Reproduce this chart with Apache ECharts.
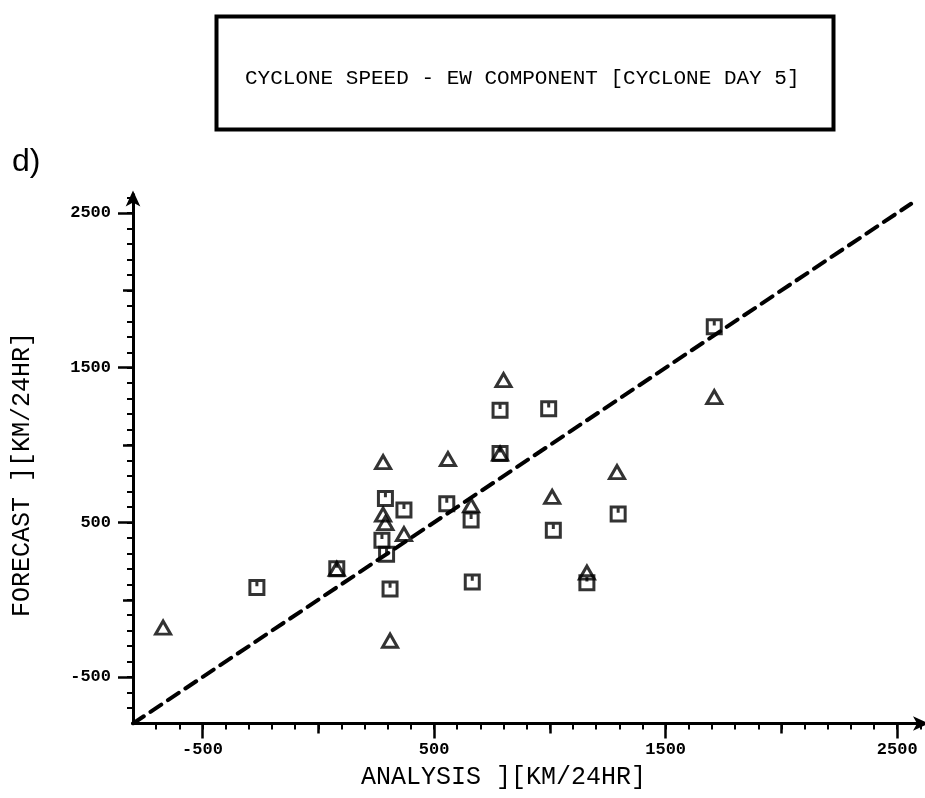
<!DOCTYPE html>
<html>
<head>
<meta charset="utf-8">
<script src="https://cdn.jsdelivr.net/npm/echarts@6/dist/echarts.min.js"></script>
<style>
  html, body { margin: 0; padding: 0; background: #fff; }
  #chart { width: 925px; height: 798px; }
</style>
</head>
<body>
<div id="chart"></div>
<script>
// Text
const titleText = 'CYCLONE SPEED - EW COMPONENT [CYCLONE DAY 5]';
const panelLabel = 'd)';
const xTitle = 'ANALYSIS ][KM/24HR]';
const yTitle = 'FORECAST ][KM/24HR]';

// Axis range and ticks (km/24hr)
const axisMin = -800;
const axisMax = 2620;
const labelTicks = [-500, 500, 1500, 2500];
const midTicks = [0, 1000, 2000];
const minorTicks = [];
for (let v = -700; v <= 2600; v += 100) minorTicks.push(v);

// Triangles: analysis (x) vs forecast (y)
const triX = [800, 280, 560, 280, 290, 370, 660, 1010, 1290, 1160, 1710, -670, 310, 785, 80];
const triY = [1420, 890, 910, 550, 495, 425, 610, 665, 825, 175, 1310, -180, -265, 945, 200];

// Squares: analysis (x) vs forecast (y)
const sqX = [785, 995, 785, 290, 370, 555, 275, 295, 80, -265, 310, 660, 665, 1015, 1295, 1160, 1710];
const sqY = [1225, 1235, 945, 655, 580, 620, 385, 295, 200, 80, 70, 515, 115, 450, 555, 110, 1765];

// Perfect-forecast diagonal (y = x)
const diagonalEnds = [-800, 2560];

const ink = '#000';
const plotFont = '"Liberation Mono", "DejaVu Sans Mono", monospace';
// Plotter-style square: outline plus the pen mark at the top centre
const squareSymbol = 'path://M0,0L12,0L12,12L0,12ZM6,0.5L6,5';

function zip(xs, ys) { return xs.map((x, i) => [x, ys[i]]); }

function axisSet(dim) {
  const pos = dim === 'x' ? 'bottom' : 'left';
  const base = {
    type: 'value', min: axisMin, max: axisMax, position: pos, offset: 0,
    splitLine: { show: false }, gridIndex: 0
  };
  return [
    Object.assign({}, base, {
      axisLine: {
        show: true, onZero: false, symbol: ['none', 'arrow'], symbolSize: [11, 16], symbolOffset: [0, 4],
        lineStyle: { color: ink, width: 3 }
      },
      axisTick: { show: true, customValues: labelTicks, length: 15, lineStyle: { color: ink, width: 2.5 } },
      axisLabel: {
        show: true, customValues: labelTicks, margin: dim === 'x' ? 18 : 22,
        formatter: v => String(v),
        color: ink, fontFamily: plotFont, fontSize: 17, fontWeight: 'bold'
      }
    }),
    Object.assign({}, base, {
      axisLine: { show: false, onZero: false },
      axisTick: { show: true, customValues: midTicks, length: 10, lineStyle: { color: ink, width: 2.5 } },
      axisLabel: { show: false }
    }),
    Object.assign({}, base, {
      axisLine: { show: false, onZero: false },
      axisTick: { show: true, customValues: minorTicks, length: 6, lineStyle: { color: ink, width: 2 } },
      axisLabel: { show: false }
    })
  ];
}

const chart = echarts.init(document.getElementById('chart'), null, { renderer: 'canvas' });

chart.setOption({
  backgroundColor: '#fff',
  animation: false,
  grid: { left: 133, top: 194.5, width: 792, height: 529, containLabel: false },
  xAxis: axisSet('x'),
  yAxis: axisSet('y'),
  graphic: [
    {
      type: 'rect', left: 214, top: 14,
      shape: { width: 617, height: 113 },
      style: { fill: 'none', stroke: ink, lineWidth: 4 }
    },
    {
      type: 'text', left: 245, top: 68,
      style: { text: titleText, fill: ink, font: '21px ' + plotFont }
    },
    {
      type: 'text', left: 12, top: 146,
      style: { text: panelLabel, fill: ink, font: '32px "Liberation Sans", Arial, sans-serif' }
    },
    {
      type: 'text', left: 361, top: 765,
      style: { text: xTitle, fill: ink, font: '25px ' + plotFont }
    },
    {
      type: 'text', x: 10, y: 617, rotation: Math.PI / 2,
      style: { text: yTitle, fill: ink, font: '25px ' + plotFont, align: 'left', verticalAlign: 'top' }
    }
  ],
  series: [
    {
      type: 'line', xAxisIndex: 0, yAxisIndex: 0,
      data: [[diagonalEnds[0], diagonalEnds[0]], [diagonalEnds[1], diagonalEnds[1]]],
      symbol: 'none', silent: true,
      lineStyle: { color: ink, width: 4, type: [13, 8], cap: 'round' }
    },
    {
      type: 'scatter', xAxisIndex: 0, yAxisIndex: 0,
      data: zip(sqX, sqY), symbol: squareSymbol, symbolSize: 14,
      itemStyle: { color: 'rgba(0,0,0,0)', borderColor: ink, borderWidth: 3 }
    },
    {
      type: 'scatter', xAxisIndex: 0, yAxisIndex: 0,
      data: zip(triX, triY), symbol: 'triangle', symbolSize: [15, 13],
      itemStyle: { color: 'rgba(0,0,0,0)', borderColor: ink, borderWidth: 3 }
    }
  ]
});
</script>
</body>
</html>
